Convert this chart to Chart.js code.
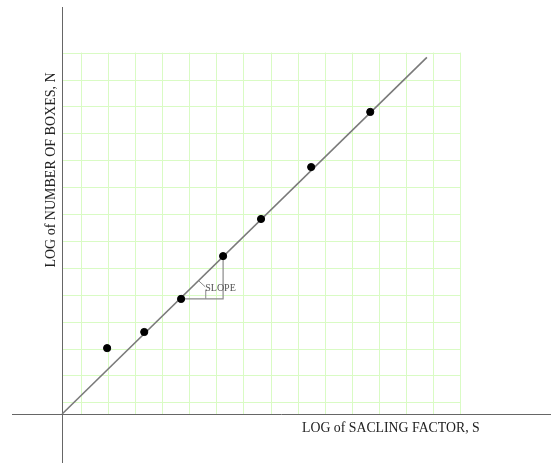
<!DOCTYPE html>
<html>
<head>
<meta charset="utf-8">
<script src="https://cdn.jsdelivr.net/npm/chart.js@4/dist/chart.umd.min.js"></script>
<style>
  html, body { margin: 0; padding: 0; background: #fff; overflow: hidden; }
  canvas { display: block; }
</style>
</head>
<body>
<canvas id="boxChart" width="551" height="463"></canvas>
<script>
// measured points (log S, log N), grid units
const logS = [1.66, 3.03, 4.39, 5.94, 7.34, 9.19, 11.37];
const logN = [2.45, 3.05, 4.28, 5.87, 7.25, 9.18, 11.23];

// fitted line ends
const fitS = [0, 13.46];
const fitN = [0, 13.26];

// slope triangle corners (from 3rd point to 4th point)
const triS = [4.39, 5.94, 5.94];
const triN = [4.28, 4.28, 5.87];

// graph paper lines
const gridX = [0.69, 1.69, 2.69, 3.69, 4.69, 5.69, 6.69, 7.69, 8.69, 9.69, 10.69, 11.69, 12.69, 13.69, 14.69];
const gridY = [0.435, 1.435, 2.435, 3.435, 4.435, 5.435, 6.435, 7.435, 8.435, 9.435, 10.435, 11.435, 12.435, 13.435];

const xTitle = "LOG of SACLING FACTOR, S";
const yTitle = "LOG of NUMBER OF BOXES, N";
const slopeLabel = "SLOPE";

const toXY = (xs, ys) => xs.map((x, i) => ({ x: x, y: ys[i] }));

// green graph paper + the two axes
const paperPlugin = {
    id: "paper",
    beforeDatasetsDraw(chart) {
        const ctx = chart.ctx;
        const xs = chart.scales.x, ys = chart.scales.y;
        const left = xs.getPixelForValue(0), right = xs.getPixelForValue(gridX[gridX.length - 1]);
        const bottom = ys.getPixelForValue(0), top = ys.getPixelForValue(gridY[gridY.length - 1]);
        ctx.save();
        ctx.strokeStyle = "#d9fbc4";
        ctx.lineWidth = 1;
        gridX.forEach(v => {
            const p = Math.round(xs.getPixelForValue(v)) + 0.5;
            ctx.beginPath(); ctx.moveTo(p, top); ctx.lineTo(p, bottom); ctx.stroke();
        });
        gridY.forEach(v => {
            const p = Math.round(ys.getPixelForValue(v)) + 0.5;
            ctx.beginPath(); ctx.moveTo(left, p); ctx.lineTo(right, p); ctx.stroke();
        });
        // axes
        const area = chart.chartArea;
        ctx.strokeStyle = "#666";
        const ax = Math.round(left) + 0.5, ay = Math.round(bottom) + 0.5;
        ctx.beginPath(); ctx.moveTo(ax, area.top); ctx.lineTo(ax, area.bottom); ctx.stroke();
        ctx.beginPath(); ctx.moveTo(area.left, ay); ctx.lineTo(area.right, ay); ctx.stroke();
        ctx.restore();
    },
    afterDatasetsDraw(chart) {
        const ctx = chart.ctx;
        const xs = chart.scales.x, ys = chart.scales.y;
        ctx.save();
        ctx.fillStyle = "#222";
        ctx.textBaseline = "middle";
        // x axis title
        ctx.font = "13.8px 'Liberation Serif'";
        ctx.textAlign = "left";
        ctx.fillText(xTitle, 302, 428);
        // y axis title
        ctx.font = "14px 'Liberation Serif'";
        ctx.translate(51, 170);
        ctx.rotate(-Math.PI / 2);
        ctx.textAlign = "center";
        ctx.fillText(yTitle, 0, 0);
        ctx.restore();
        // slope label
        ctx.save();
        ctx.fillStyle = "#555";
        ctx.font = "10px 'Liberation Serif'";
        ctx.textBaseline = "middle";
        ctx.fillText(slopeLabel, xs.getPixelForValue(5.28), ys.getPixelForValue(4.68));
        ctx.restore();
    }
};

const ctx = document.getElementById("boxChart").getContext("2d");
new Chart(ctx, {
    type: "scatter",
    data: {
        datasets: [
            {
                label: "fit",
                data: toXY(fitS, fitN),
                showLine: true,
                borderColor: "#7a7a7a",
                borderWidth: 1.6,
                pointRadius: 0,
                order: 2
            },
            {
                label: "slope",
                data: toXY(triS, triN),
                showLine: true,
                borderColor: "#8a8a8a",
                borderWidth: 1.2,
                pointRadius: 0,
                order: 2
            },
            {
                label: "angle mark",
                data: [{ x: 5.03, y: 4.96 }, { x: 5.28, y: 4.73 }],
                showLine: true,
                borderColor: "#8a8a8a",
                borderWidth: 1,
                pointRadius: 0,
                order: 2
            },
            {
                label: "tick",
                data: [{ x: 5.30, y: 4.28 }, { x: 5.30, y: 4.62 }],
                showLine: true,
                borderColor: "#8a8a8a",
                borderWidth: 1,
                pointRadius: 0,
                order: 2
            },
            {
                label: "boxes",
                data: toXY(logS, logN),
                showLine: false,
                backgroundColor: "#000",
                borderColor: "#000",
                pointRadius: 3.6,
                order: 0
            }
        ]
    },
    options: {
        responsive: false,
        animation: false,
        layout: { autoPadding: false, padding: { left: 12, top: 7, right: 0, bottom: 0 } },
        plugins: { legend: { display: false }, tooltip: { enabled: false } },
        scales: {
            x: { type: "linear", display: false, min: -1.85, max: 18.04 },
            y: { type: "linear", display: false, min: -1.82, max: 15.13 }
        }
    },
    plugins: [paperPlugin]
});
</script>
</body>
</html>
